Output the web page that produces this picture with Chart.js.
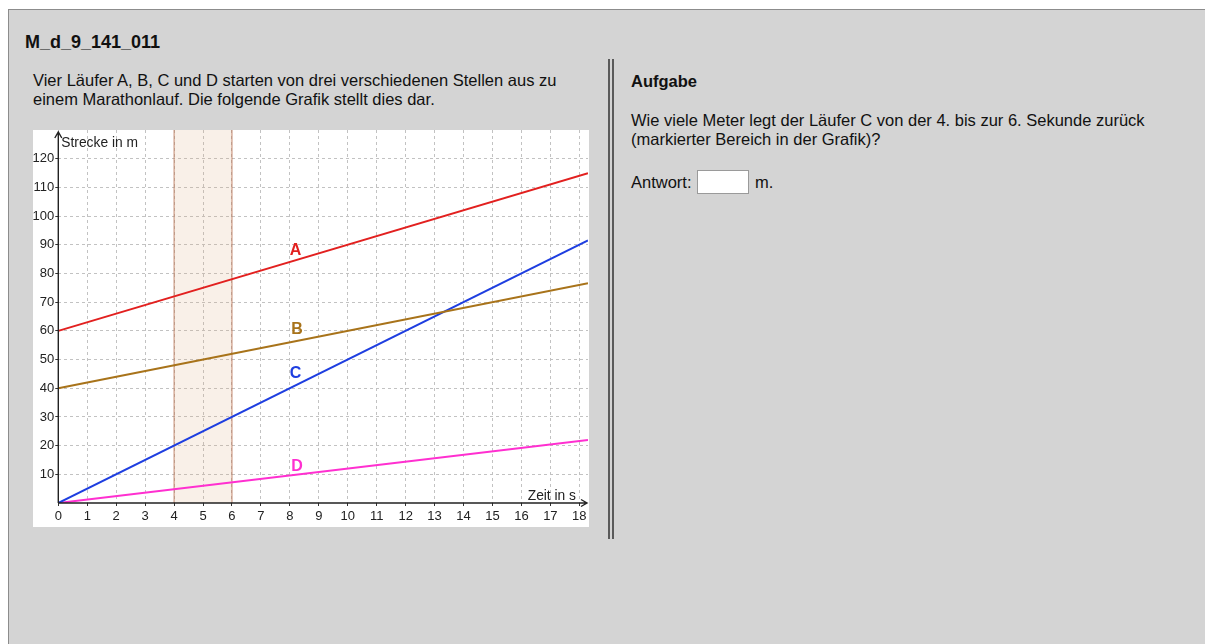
<!DOCTYPE html>
<html><head><meta charset="utf-8">
<script src="https://cdn.jsdelivr.net/npm/chart.js@4.4.1/dist/chart.umd.min.js"></script>
<style>
html,body{margin:0;padding:0;background:#fff;width:1205px;height:644px;overflow:hidden;font-family:"Liberation Sans",Arial,Helvetica,sans-serif;color:#111}
#box{position:absolute;left:8px;top:9px;width:1230px;height:680px;background:#d4d4d4;border:1px solid #8c8c8c;}
.t{position:absolute;white-space:nowrap;font-size:16.5px;line-height:19px}
#title{left:25px;top:31px;font-size:18px;line-height:22px;font-weight:bold}
#chartWrap{position:absolute;left:33px;top:130px;width:556px;height:397px;background:#fff}
#div1,#div2{position:absolute;top:59px;width:2px;height:480px;background:#5a5a5a}
#div1{left:608px}#div2{left:612px}
#inp{position:absolute;left:697px;top:170px;width:52px;height:24px;background:#fff;border:1px solid #9a9a9a;box-sizing:border-box}
</style></head>
<body>
<div id="box"></div>
<div id="title" class="t">M_d_9_141_011</div>
<div class="t" style="left:33px;top:71px">Vier Läufer A, B, C und D starten von drei verschiedenen Stellen aus zu</div>
<div class="t" style="left:33px;top:90px">einem Marathonlauf. Die folgende Grafik stellt dies dar.</div>
<div id="chartWrap"><canvas id="c" width="556" height="397"></canvas></div>
<div id="div1"></div><div id="div2"></div>
<div class="t" style="left:631px;top:72px;font-weight:bold">Aufgabe</div>
<div class="t" style="left:631px;top:111px">Wie viele Meter legt der Läufer C von der 4. bis zur 6. Sekunde zurück</div>
<div class="t" style="left:631px;top:130px">(markierter Bereich in der Grafik)?</div>
<div class="t" style="left:631px;top:173px">Antwort:</div>
<div id="inp"></div>
<div class="t" style="left:755px;top:173px">m.</div>
<script>
// ---- data ----
const xTicks = [0,1,2,3,4,5,6,7,8,9,10,11,12,13,14,15,16,17,18];
const yTicks = [10,20,30,40,50,60,70,80,90,100,110,120];
const times = [0, 18.3];
const runnerA = [60, 114.9];
const runnerB = [40, 76.6];
const runnerC = [0, 91.5];
const runnerD = [0, 22.0];
const runnerNames = ['A','B','C','D'];
const labelX = [8.2, 8.25, 8.2, 8.25];
const labelY = [88, 60.5, 45, 12.8];
const bandRange = [4, 6];
const xRange = [0, 18.3];
const yRange = [0, 130];
const xTitle = 'Zeit in s';
const yTitle = 'Strecke in m';

const colors = ['#e2201f', '#a8731a', '#1e3ee0', '#ff2fd0'];
const series = [runnerA, runnerB, runnerC, runnerD];

const datasets = series.map((vals, i) => ({
  label: runnerNames[i],
  data: times.map((t, j) => ({x: t, y: vals[j]})),
  borderColor: colors[i],
  borderWidth: 2,
  pointRadius: 0,
  tension: 0,
  fill: false
}));

const tickFont = {family: '"Liberation Sans", Arial, sans-serif', size: 13};

const bandPlugin = {
  id: 'band',
  beforeDatasetsDraw(chart) {
    const {ctx, chartArea, scales: {x, y}} = chart;
    const x1 = x.getPixelForValue(bandRange[0]);
    const x2 = x.getPixelForValue(bandRange[1]);
    ctx.save();
    ctx.fillStyle = 'rgba(220,170,130,0.18)';
    ctx.fillRect(x1, chartArea.top, x2 - x1, y.getPixelForValue(0) - chartArea.top);
    ctx.strokeStyle = 'rgba(185,115,85,0.7)';
    ctx.lineWidth = 1.2;
    [x1, x2].forEach(px => {
      ctx.beginPath();
      ctx.moveTo(px, chartArea.top);
      ctx.lineTo(px, y.getPixelForValue(0));
      ctx.stroke();
    });
    ctx.restore();
  }
};

const axesPlugin = {
  id: 'axesArrows',
  afterDatasetsDraw(chart) {
    const {ctx, chartArea, scales: {x, y}} = chart;
    const ox = x.getPixelForValue(0), oy = y.getPixelForValue(0);
    ctx.save();
    ctx.strokeStyle = '#222';
    ctx.lineWidth = 1.4;
    // y axis
    const topY = chartArea.top + 2;
    ctx.beginPath();
    ctx.moveTo(ox, oy); ctx.lineTo(ox, topY);
    ctx.moveTo(ox - 3.5, topY + 6); ctx.lineTo(ox, topY); ctx.lineTo(ox + 3.5, topY + 6);
    ctx.stroke();
    // x axis
    const rightX = chartArea.right - 1;
    ctx.beginPath();
    ctx.moveTo(ox, oy); ctx.lineTo(rightX, oy);
    ctx.moveTo(rightX - 6, oy - 3.5); ctx.lineTo(rightX, oy); ctx.lineTo(rightX - 6, oy + 3.5);
    ctx.stroke();
    // titles
    ctx.fillStyle = '#222';
    ctx.font = '13.8px "Liberation Sans", Arial, sans-serif';
    ctx.textBaseline = 'alphabetic';
    ctx.textAlign = 'left';
    ctx.fillText(yTitle, ox + 3, chartArea.top + 17);
    ctx.textAlign = 'right';
    ctx.fillText(xTitle, rightX - 11, oy - 3);
    // runner letters
    ctx.font = 'bold 16px "Liberation Sans", Arial, sans-serif';
    ctx.textAlign = 'center';
    ctx.textBaseline = 'middle';
    runnerNames.forEach((n, i) => {
      ctx.fillStyle = colors[i];
      ctx.fillText(n, x.getPixelForValue(labelX[i]), y.getPixelForValue(labelY[i]));
    });
    ctx.restore();
  }
};

new Chart(document.getElementById('c'), {
  type: 'line',
  data: {datasets},
  options: {
    responsive: false,
    animation: false,
    devicePixelRatio: 1,
    layout: {padding: {left: 0, right: 1, top: 0, bottom: 0}},
    plugins: {legend: {display: false}, tooltip: {enabled: false}},
    scales: {
      x: {
        type: 'linear', min: xRange[0], max: xRange[1],
        afterBuildTicks: s => { s.ticks = xTicks.map(v => ({value: v})); },
        afterFit: s => { s.height = 24; s.paddingLeft = 0; s.paddingRight = 0; },
        ticks: {font: tickFont, color: '#222', padding: 3, maxRotation: 0, autoSkip: false, callback: v => String(v)},
        grid: {color: '#c2c2c2', lineWidth: 1, tickLength: 3, tickColor: '#333', drawTicks: true},
        border: {display: false, dash: [3, 3]}
      },
      y: {
        type: 'linear', min: yRange[0], max: yRange[1],
        afterBuildTicks: s => { s.ticks = yTicks.map(v => ({value: v})); },
        afterFit: s => { s.width = 25.3; s.paddingTop = 0; s.paddingBottom = 0; },
        ticks: {font: tickFont, color: '#222', padding: 1, autoSkip: false, callback: v => String(v)},
        grid: {color: '#c2c2c2', lineWidth: 1, tickLength: 3, tickColor: '#333', drawTicks: true},
        border: {display: false, dash: [3, 3]}
      }
    }
  },
  plugins: [bandPlugin, axesPlugin]
});
</script>
</body></html>
